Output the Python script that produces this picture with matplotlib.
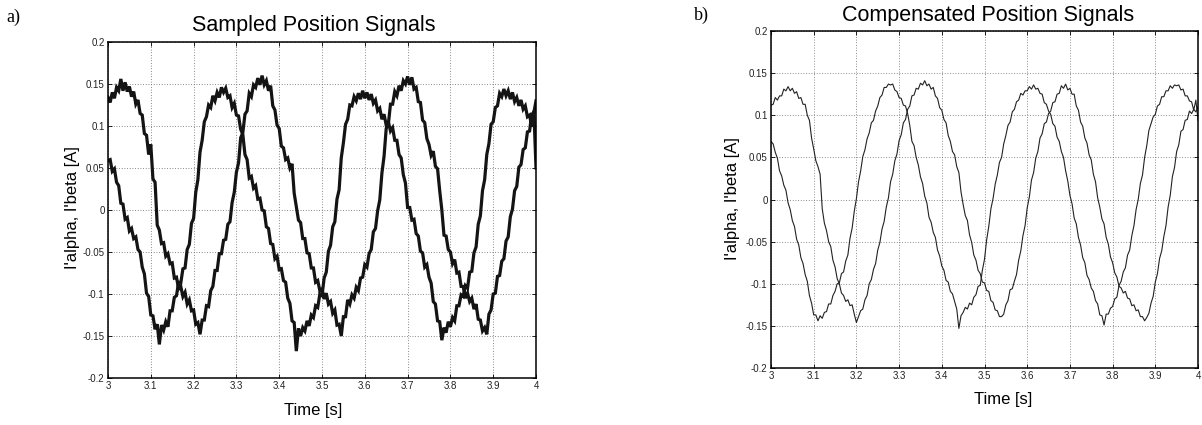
import numpy as np
import matplotlib
matplotlib.use("Agg")
import matplotlib.pyplot as plt

# ---------------- data (5 ms sampling) ----------------
time_s = np.round(np.linspace(3.0, 4.0, 201), 3)

sampled_i_alpha = [
    0.134, 0.128, 0.140, 0.133, 0.146, 0.142, 0.156, 0.142, 0.152, 0.141,
    0.147, 0.135, 0.141, 0.126, 0.131, 0.115, 0.113, 0.091, 0.089, 0.066,
    0.078, 0.037, 0.033, -0.018, -0.024, -0.040, -0.039, -0.055, -0.052, -0.064,
    -0.063, -0.081, -0.080, -0.094, -0.091, -0.103, -0.098, -0.112, -0.107, -0.120,
    -0.119, -0.136, -0.134, -0.148, -0.131, -0.131, -0.114, -0.115, -0.096, -0.091,
    -0.072, -0.072, -0.052, -0.052, -0.036, -0.035, -0.017, -0.014, 0.009, 0.021,
    0.045, 0.056, 0.086, 0.092, 0.114, 0.118, 0.139, 0.135, 0.149, 0.146,
    0.157, 0.149, 0.160, 0.149, 0.154, 0.142, 0.148, 0.124, 0.119, 0.101,
    0.097, 0.076, 0.074, 0.060, 0.062, 0.050, 0.055, 0.020, 0.004, -0.012,
    -0.015, -0.034, -0.034, -0.051, -0.052, -0.069, -0.069, -0.086, -0.084, -0.096,
    -0.094, -0.106, -0.099, -0.112, -0.109, -0.123, -0.119, -0.137, -0.136, -0.150,
    -0.127, -0.127, -0.107, -0.112, -0.101, -0.105, -0.092, -0.096, -0.081, -0.080,
    -0.065, -0.068, -0.052, -0.047, -0.026, -0.022, -0.001, 0.012, 0.044, 0.064,
    0.097, 0.102, 0.126, 0.126, 0.141, 0.136, 0.148, 0.142, 0.154, 0.150,
    0.159, 0.149, 0.158, 0.144, 0.146, 0.129, 0.128, 0.107, 0.104, 0.085,
    0.078, 0.065, 0.070, 0.052, 0.049, 0.023, 0.000, -0.030, -0.031, -0.047,
    -0.050, -0.064, -0.059, -0.075, -0.074, -0.091, -0.091, -0.105, -0.099, -0.109,
    -0.105, -0.118, -0.112, -0.130, -0.131, -0.144, -0.140, -0.148, -0.124, -0.119,
    -0.100, -0.099, -0.079, -0.078, -0.061, -0.058, -0.037, -0.032, -0.008, 0.001,
    0.023, 0.028, 0.051, 0.054, 0.072, 0.074, 0.093, 0.094, 0.114, 0.116,
    0.130,
]

sampled_i_beta = [
    0.059, 0.060, 0.046, 0.049, 0.033, 0.029, 0.008, 0.007, -0.011, -0.009,
    -0.025, -0.022, -0.034, -0.032, -0.047, -0.050, -0.068, -0.076, -0.099, -0.103,
    -0.125, -0.126, -0.142, -0.136, -0.160, -0.137, -0.143, -0.133, -0.139, -0.120,
    -0.120, -0.104, -0.102, -0.086, -0.087, -0.070, -0.069, -0.047, -0.041, -0.016,
    -0.010, 0.021, 0.036, 0.069, 0.083, 0.105, 0.111, 0.125, 0.122, 0.136,
    0.130, 0.140, 0.134, 0.146, 0.140, 0.145, 0.134, 0.136, 0.122, 0.127,
    0.113, 0.112, 0.096, 0.090, 0.066, 0.060, 0.038, 0.040, 0.026, 0.029,
    0.013, 0.014, 0.000, -0.001, -0.020, -0.022, -0.040, -0.041, -0.058, -0.055,
    -0.071, -0.070, -0.084, -0.086, -0.105, -0.111, -0.132, -0.134, -0.168, -0.141,
    -0.150, -0.140, -0.144, -0.132, -0.138, -0.125, -0.128, -0.114, -0.116, -0.100,
    -0.102, -0.081, -0.074, -0.049, -0.042, -0.020, -0.014, 0.013, 0.024, 0.062,
    0.080, 0.102, 0.108, 0.125, 0.124, 0.135, 0.130, 0.139, 0.132, 0.142,
    0.133, 0.140, 0.131, 0.138, 0.127, 0.131, 0.118, 0.121, 0.108, 0.114,
    0.101, 0.105, 0.094, 0.098, 0.083, 0.083, 0.066, 0.062, 0.042, 0.032,
    0.003, 0.003, -0.012, -0.011, -0.028, -0.031, -0.049, -0.051, -0.068, -0.065,
    -0.080, -0.087, -0.109, -0.112, -0.132, -0.133, -0.155, -0.140, -0.146, -0.133,
    -0.139, -0.128, -0.132, -0.114, -0.114, -0.101, -0.103, -0.090, -0.093, -0.074,
    -0.073, -0.051, -0.044, -0.017, -0.007, 0.023, 0.036, 0.066, 0.079, 0.102,
    0.105, 0.122, 0.124, 0.139, 0.135, 0.144, 0.136, 0.142, 0.132, 0.140,
    0.129, 0.134, 0.124, 0.131, 0.120, 0.124, 0.111, 0.113, 0.099, 0.118,
    0.050,
]

compensated_i_alpha = [
    0.112, 0.113, 0.121, 0.118, 0.123, 0.123, 0.131, 0.129, 0.134, 0.129,
    0.132, 0.126, 0.128, 0.120, 0.121, 0.113, 0.113, 0.100, 0.094, 0.073,
    0.060, 0.046, 0.039, 0.030, -0.011, -0.028, -0.037, -0.050, -0.056, -0.072,
    -0.080, -0.094, -0.100, -0.111, -0.114, -0.121, -0.119, -0.126, -0.125, -0.136,
    -0.146, -0.139, -0.132, -0.130, -0.119, -0.114, -0.100, -0.095, -0.083, -0.076,
    -0.060, -0.051, -0.035, -0.026, -0.009, 0.002, 0.021, 0.030, 0.046, 0.054,
    0.070, 0.077, 0.091, 0.095, 0.107, 0.111, 0.123, 0.124, 0.132, 0.131,
    0.138, 0.136, 0.141, 0.135, 0.137, 0.131, 0.133, 0.123, 0.120, 0.109,
    0.106, 0.095, 0.091, 0.076, 0.069, 0.057, 0.053, 0.039, 0.032, 0.009,
    -0.006, -0.019, -0.025, -0.042, -0.051, -0.066, -0.072, -0.084, -0.088, -0.098,
    -0.099, -0.108, -0.109, -0.120, -0.122, -0.131, -0.132, -0.139, -0.139, -0.136,
    -0.125, -0.120, -0.107, -0.106, -0.097, -0.089, -0.072, -0.061, -0.043, -0.031,
    -0.010, 0.003, 0.023, 0.032, 0.049, 0.057, 0.073, 0.078, 0.090, 0.092,
    0.102, 0.105, 0.115, 0.116, 0.125, 0.126, 0.135, 0.132, 0.137, 0.130,
    0.132, 0.125, 0.125, 0.111, 0.106, 0.092, 0.087, 0.073, 0.067, 0.053,
    0.047, 0.030, 0.021, 0.002, -0.009, -0.023, -0.029, -0.045, -0.053, -0.068,
    -0.075, -0.087, -0.092, -0.103, -0.105, -0.111, -0.109, -0.117, -0.118, -0.126,
    -0.125, -0.132, -0.131, -0.139, -0.139, -0.144, -0.140, -0.135, -0.123, -0.115,
    -0.098, -0.088, -0.070, -0.061, -0.044, -0.031, -0.009, 0.005, 0.027, 0.038,
    0.057, 0.065, 0.081, 0.083, 0.094, 0.095, 0.105, 0.102, 0.107, 0.104,
    0.110,
]

compensated_i_beta = [
    0.069, 0.066, 0.056, 0.049, 0.034, 0.028, 0.017, 0.011, -0.004, -0.012,
    -0.025, -0.032, -0.047, -0.054, -0.069, -0.076, -0.089, -0.097, -0.114, -0.123,
    -0.137, -0.137, -0.144, -0.138, -0.141, -0.134, -0.133, -0.124, -0.124, -0.114,
    -0.109, -0.100, -0.099, -0.088, -0.086, -0.073, -0.066, -0.046, -0.034, -0.014,
    0.001, 0.021, 0.034, 0.051, 0.059, 0.072, 0.079, 0.091, 0.094, 0.105,
    0.111, 0.121, 0.124, 0.133, 0.133, 0.137, 0.136, 0.137, 0.130, 0.128,
    0.121, 0.120, 0.112, 0.111, 0.102, 0.088, 0.069, 0.064, 0.050, 0.041,
    0.027, 0.019, 0.004, -0.004, -0.021, -0.027, -0.039, -0.045, -0.060, -0.067,
    -0.079, -0.084, -0.096, -0.098, -0.109, -0.112, -0.121, -0.130, -0.153, -0.138,
    -0.134, -0.128, -0.130, -0.123, -0.125, -0.116, -0.113, -0.103, -0.102, -0.084,
    -0.071, -0.048, -0.032, -0.011, 0.001, 0.018, 0.029, 0.044, 0.050, 0.066,
    0.076, 0.088, 0.092, 0.104, 0.107, 0.116, 0.118, 0.126, 0.124, 0.129,
    0.129, 0.134, 0.131, 0.136, 0.131, 0.132, 0.126, 0.125, 0.115, 0.113,
    0.105, 0.101, 0.090, 0.087, 0.074, 0.069, 0.057, 0.050, 0.034, 0.022,
    0.005, -0.005, -0.022, -0.029, -0.045, -0.054, -0.069, -0.075, -0.090, -0.095,
    -0.105, -0.109, -0.120, -0.124, -0.137, -0.138, -0.149, -0.136, -0.136, -0.129,
    -0.127, -0.118, -0.116, -0.102, -0.097, -0.086, -0.081, -0.066, -0.060, -0.043,
    -0.031, -0.012, 0.000, 0.019, 0.029, 0.050, 0.064, 0.082, 0.090, 0.098,
    0.101, 0.111, 0.113, 0.122, 0.122, 0.129, 0.129, 0.135, 0.132, 0.136,
    0.135, 0.136, 0.130, 0.131, 0.123, 0.123, 0.117, 0.116, 0.106, 0.118,
    0.094,
]

x_ticks = [3.0, 3.1, 3.2, 3.3, 3.4, 3.5, 3.6, 3.7, 3.8, 3.9, 4.0]
x_tick_labels = ["3", "3.1", "3.2", "3.3", "3.4", "3.5", "3.6", "3.7", "3.8", "3.9", "4"]
y_ticks = [-0.2, -0.15, -0.1, -0.05, 0.0, 0.05, 0.1, 0.15, 0.2]
y_tick_labels = ["-0.2", "-0.15", "-0.1", "-0.05", "0", "0.05", "0.1", "0.15", "0.2"]
panel_titles = ["Sampled Position Signals", "Compensated Position Signals"]
panel_tags = ["a)", "b)"]
x_label = "Time [s]"
y_label = "I'alpha, I'beta [A]"

# ---------------- figure ----------------
plt.rcParams["font.family"] = ["Liberation Sans", "DejaVu Sans"]
W, H = 1202, 425
fig = plt.figure(figsize=(W / 100, H / 100), dpi=100)

def box(l, t, r, b):
    return [l / W, 1 - b / H, (r - l) / W, (b - t) / H]

ax1 = fig.add_axes(box(108, 42, 536, 378))
ax2 = fig.add_axes(box(771, 31, 1198, 368))

def style(ax):
    ax.set_xlim(3.0, 4.0)
    ax.set_ylim(-0.2, 0.2)
    ax.set_xticks(x_ticks)
    ax.set_xticklabels(x_tick_labels)
    ax.set_yticks(y_ticks)
    ax.set_yticklabels(y_tick_labels)
    ax.grid(True, linestyle=(0, (1, 2.2)), color="#666666", linewidth=0.6)
    ax.set_axisbelow(True)
    ax.tick_params(direction="in", length=3, width=0.6, top=True, right=True,
                   labelsize=7, pad=2.5, labelcolor="#222222")
    for s in ax.spines.values():
        s.set_linewidth(1.1)
        s.set_color("black")

style(ax1)
style(ax2)

ax1.plot(time_s, sampled_i_alpha, color="#141414", linewidth=2.3, solid_joinstyle="miter")
ax1.plot(time_s, sampled_i_beta, color="#141414", linewidth=2.3, solid_joinstyle="miter")
ax2.plot(time_s, compensated_i_alpha, color="#222222", linewidth=0.8)
ax2.plot(time_s, compensated_i_beta, color="#222222", linewidth=0.8)

# titles
fig.text(314 / W, 1 - 31 / H, panel_titles[0], ha="center", va="baseline", fontsize=15.5)
fig.text(988 / W, 1 - 21 / H, panel_titles[1], ha="center", va="baseline", fontsize=15.5)
# panel tags
fig.text(6 / W, 1 - 17 / H, panel_tags[0], ha="left", va="center", fontsize=13,
         family=["Liberation Serif", "DejaVu Serif"])
fig.text(694 / W, 1 - 15 / H, panel_tags[1], ha="left", va="center", fontsize=13,
         family=["Liberation Serif", "DejaVu Serif"])
# axis labels
fig.text(313 / W, 1 - 415 / H, x_label, ha="center", va="baseline", fontsize=12)
fig.text(1003 / W, 1 - 404 / H, x_label, ha="center", va="baseline", fontsize=12)
fig.text(73 / W, 1 - 208 / H, y_label, ha="center", va="center", rotation=90, fontsize=12)
fig.text(732 / W, 1 - 199 / H, y_label, ha="center", va="center", rotation=90, fontsize=12)

fig.savefig("out.png", dpi=100, facecolor="white")
